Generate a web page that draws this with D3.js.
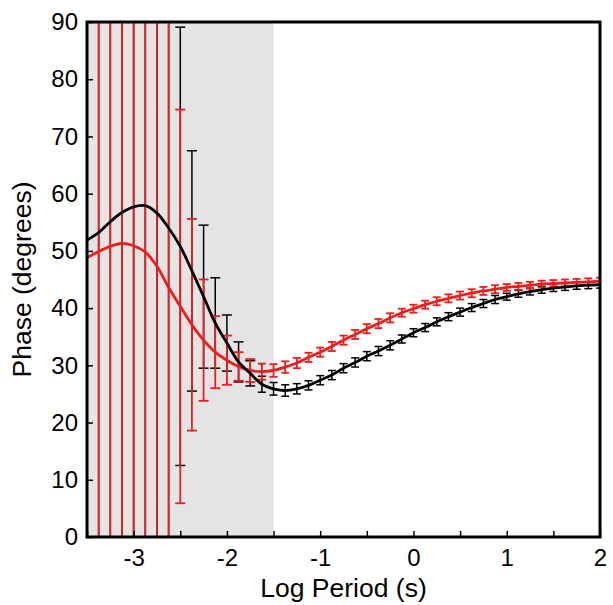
<!DOCTYPE html>
<html>
<head>
<meta charset="utf-8">
<script src="https://cdn.jsdelivr.net/npm/d3@7"></script>
<style>
  body { margin: 0; background: #fff; }
  text { font-family: "Liberation Sans", Arial, sans-serif; fill: #000; }
</style>
</head>
<body>
<svg class="phase-chart" width="613" height="605"></svg>
<script>
// log10 period (s), one sample every 1/8 decade
const logPeriod = [
  -3.5, -3.375, -3.25, -3.125, -3.0, -2.875, -2.75, -2.625, -2.5, -2.375,
  -2.25, -2.125, -2.0, -1.875, -1.75, -1.625, -1.5, -1.375, -1.25, -1.125,
  -1.0, -0.875, -0.75, -0.625, -0.5, -0.375, -0.25, -0.125, 0.0, 0.125,
  0.25, 0.375, 0.5, 0.625, 0.75, 0.875, 1.0, 1.125, 1.25, 1.375,
  1.5, 1.625, 1.75, 1.875, 2.0
];

const blackPhase = [
  51.9, 53.2, 55.1, 56.7, 57.7, 57.9, 56.6, 54.0, 50.8, 46.5,
  42.0, 37.4, 33.9, 30.6, 28.6, 26.7, 25.9, 25.6, 25.9, 26.5,
  27.4, 28.3, 29.5, 30.5, 31.6, 32.5, 33.5, 34.6, 35.7, 36.6,
  37.6, 38.5, 39.3, 40.1, 40.8, 41.5, 42.0, 42.5, 42.9, 43.2,
  43.5, 43.7, 43.9, 44.0, 44.1
];
const blackErr = [
  90, 90, 90, 90, 90, 90, 90, 90, 38.3, 21.0,
  12.5, 7.9, 4.9, 3.5, 2.2, 1.4, 1.1, 1.0, 0.9, 0.8,
  0.8, 0.8, 0.8, 0.8, 0.8, 0.8, 0.8, 0.7, 0.7, 0.7,
  0.7, 0.7, 0.7, 0.7, 0.7, 0.7, 0.6, 0.6, 0.6, 0.6,
  0.6, 0.6, 0.6, 0.6, 0.6
];

const redPhase = [
  48.8, 49.9, 50.8, 51.3, 50.9, 49.8, 47.3, 43.6, 40.3, 37.1,
  34.4, 32.3, 30.9, 29.8, 29.1, 28.9, 29.1, 29.7, 30.4, 31.4,
  32.3, 33.3, 34.4, 35.4, 36.4, 37.3, 38.3, 39.2, 39.9, 40.6,
  41.2, 41.7, 42.2, 42.6, 43.0, 43.3, 43.6, 43.8, 44.0, 44.2,
  44.3, 44.4, 44.5, 44.6, 44.7
];
const redErr = [
  95, 95, 95, 95, 95, 95, 95, 95, 34.4, 18.5,
  10.6, 6.3, 4.3, 2.5, 2.0, 1.4, 1.1, 1.0, 0.9, 0.8,
  0.8, 0.8, 0.8, 0.8, 0.8, 0.8, 0.8, 0.7, 0.7, 0.7,
  0.7, 0.7, 0.7, 0.7, 0.7, 0.7, 0.6, 0.6, 0.6, 0.6,
  0.6, 0.6, 0.6, 0.6, 0.6
];

const xTicks = [-3.5, -3, -2.5, -2, -1.5, -1, -0.5, 0, 0.5, 1, 1.5, 2];
const yTicks = [0, 10, 20, 30, 40, 50, 60, 70, 80, 90];
const shadedBand = [-3.5, -1.5];

const svg = d3.select('.phase-chart');
const margin = { left: 87, top: 22, right: 13, bottom: 68 };
const width = +svg.attr('width') - margin.left - margin.right;
const height = +svg.attr('height') - margin.top - margin.bottom;

const x = d3.scaleLinear().domain([-3.5, 2]).range([0, width]);
const y = d3.scaleLinear().domain([0, 90]).range([height, 0]);

const g = svg.append('g')
  .attr('transform', `translate(${margin.left} ${margin.top})`);

g.append('clipPath').attr('id', 'plot-clip')
  .append('rect').attr('width', width).attr('height', height);

g.append('rect')
  .attr('x', x(shadedBand[0]))
  .attr('width', x(shadedBand[1]) - x(shadedBand[0]))
  .attr('height', height)
  .attr('fill', '#e4e4e4');

const plot = g.append('g').attr('clip-path', 'url(#plot-clip)');

const series = [
  { values: blackPhase, err: blackErr, color: '#000000', barWidth: 1.5 },
  { values: redPhase, err: redErr, color: '#f01c1c', barWidth: 1.8 }
];

series.forEach(s => {
  const pts = logPeriod.map((p, i) => ({ p, v: s.values[i], e: s.err[i] }));
  // big bars get wide caps, the tiny ones read as short crosses
  const cap = d => d.e > 1.5 ? 5 : 4;
  const bars = plot.append('g')
    .attr('stroke', s.color)
    .attr('stroke-width', s.barWidth);
  bars.selectAll('line.stem').data(pts).enter().append('line')
    .attr('class', 'stem')
    .attr('x1', d => x(d.p)).attr('x2', d => x(d.p))
    .attr('y1', d => y(d.v - d.e)).attr('y2', d => y(d.v + d.e));
  bars.selectAll('line.cap-top').data(pts).enter().append('line')
    .attr('class', 'cap-top')
    .attr('x1', d => x(d.p) - cap(d)).attr('x2', d => x(d.p) + cap(d))
    .attr('y1', d => y(d.v + d.e)).attr('y2', d => y(d.v + d.e));
  bars.selectAll('line.cap-bot').data(pts).enter().append('line')
    .attr('class', 'cap-bot')
    .attr('x1', d => x(d.p) - cap(d)).attr('x2', d => x(d.p) + cap(d))
    .attr('y1', d => y(d.v - d.e)).attr('y2', d => y(d.v - d.e));
});

const line = d3.line()
  .x(d => x(d.p))
  .y(d => y(d.v))
  .curve(d3.curveCatmullRom);

[series[1], series[0]].forEach(s => {
  plot.append('path')
    .datum(logPeriod.map((p, i) => ({ p, v: s.values[i] })))
    .attr('fill', 'none')
    .attr('stroke', s.color)
    .attr('stroke-width', 2.8)
    .attr('d', line);
});

// axes with inward ticks
const xAxis = d3.axisBottom(x)
  .tickValues(xTicks)
  .tickSizeInner(-6)
  .tickSizeOuter(0)
  .tickPadding(12)
  .tickFormat(d => Number.isInteger(d) ? String(d) : '');

const yAxis = d3.axisLeft(y)
  .tickValues(yTicks)
  .tickSizeInner(-6)
  .tickSizeOuter(0)
  .tickPadding(9);

const xAxisG = g.append('g')
  .attr('transform', `translate(0, ${height})`)
  .call(xAxis);
const yAxisG = g.append('g').call(yAxis);

[xAxisG, yAxisG].forEach(a => {
  a.select('.domain').remove();
  a.selectAll('.tick line').attr('stroke', '#000').attr('stroke-width', 1.5);
  a.selectAll('.tick text').attr('font-size', 24);
});

g.append('rect')
  .attr('width', width)
  .attr('height', height)
  .attr('fill', 'none')
  .attr('stroke', '#000')
  .attr('stroke-width', 3);

svg.append('text')
  .attr('x', margin.left + width / 2)
  .attr('y', 597)
  .attr('text-anchor', 'middle')
  .attr('font-size', 26.5)
  .text('Log Period (s)');

svg.append('text')
  .attr('transform', `translate(31, ${margin.top + height / 2}) rotate(-90)`)
  .attr('text-anchor', 'middle')
  .attr('font-size', 26.5)
  .text('Phase (degrees)');
</script>
</body>
</html>
